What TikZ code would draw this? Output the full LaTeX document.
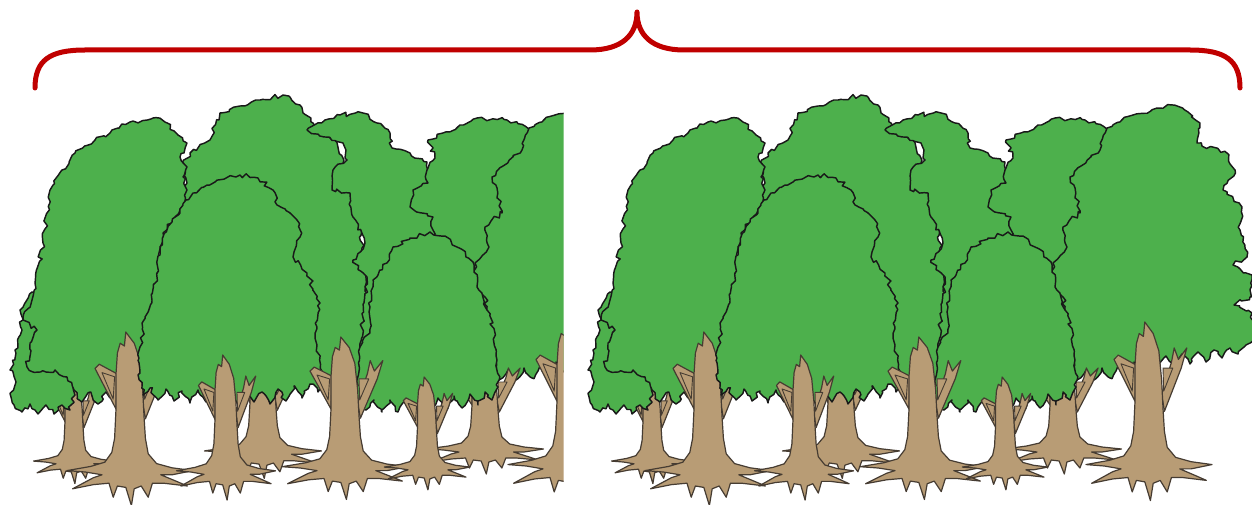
\documentclass[tikz,border=0pt]{standalone}
\usetikzlibrary{decorations.pathmorphing}
\definecolor{leaf}{RGB}{77,176,76}
\definecolor{bark}{RGB}{184,156,117}
\definecolor{barkline}{RGB}{70,60,50}
\definecolor{bracered}{RGB}{192,0,0}
\tikzset{
 canopy/.style={fill=leaf, draw=black!90, line width=1.45pt, line join=round, decorate, decoration={random steps, segment length=4pt, amplitude=2.3pt}},
 barkpart/.style={fill=bark, draw=barkline, line width=1.2pt, line join=round},
 hollow/.style={fill=bark, draw=barkline, line width=0.9pt, line join=round},
 bracestyle/.style={draw=bracered, line width=5pt, line cap=round, line join=round},
}
\newcommand{\drawtrunk}[4]{%
 \begin{scope}[shift={(#1,#2)}, xscale=#3, yscale=#4]
  \path[barkpart] (-10,-45) -- (-25,-74) -- (-22,-77) -- (-9,-70) -- cycle;
  \path[barkpart] (9,-50) -- (16,-72) -- (18,-82) -- (21,-74) -- (27,-82) -- (23,-68) -- (11,-38) -- cycle;
  \path[barkpart] (-3,-100) -- (3,-92) -- (7,-80) -- (9,-60) -- (10,-40) -- (11,-24) -- (13,-13) -- (19,-6) -- (30,-3) -- (45,-1) -- (30,2) -- (22,2) -- (34,7) -- (41,10) -- (24,8) -- (16,8) -- (13,18) -- (8,10) -- (3,12) -- (1,24) -- (-3,11) -- (-9,10) -- (-12,18) -- (-15,8) -- (-26,9) -- (-41,12) -- (-26,4) -- (-20,2) -- (-32,0) -- (-45,-1) -- (-28,-4) -- (-18,-7) -- (-13,-14) -- (-11,-24) -- (-10,-45) -- (-10,-70) -- (-9,-85) -- (-7,-92) -- (-4,-90) -- cycle;
  \path[hollow] (-12,-52) -- (-20,-71) -- (-11,-68) -- cycle;
  \path[hollow] (10.5,-52) -- (17,-68) -- (10,-68) -- cycle;
 \end{scope}}
\newcommand{\forestscene}{%
 \pgfmathsetseed{42}
 % B
 \path[canopy] (182,215) -- (187,183) -- (182,167) -- (190,153) -- (210,140) -- (220,113) -- (240,106) -- (260,100) -- (283,95) -- (300,105) -- (313,123) -- (335,140) -- (355,190) -- (365,260) -- (368,330) -- (372,375) -- (362,388) -- (354,378) -- (346,390) -- (338,380) -- (330,390) -- (320,382) -- (250,385) -- (190,330) -- (178,260) -- cycle;
 % C
 \path[canopy] (343,143) -- (307,130) -- (325,120) -- (340,115) -- (363,113) -- (377,123) -- (390,133) -- (392,148) -- (410,153) -- (427,162) -- (440,200) -- (445,260) -- (440,320) -- (420,370) -- (370,372) -- (360,350) -- (367,277) -- (353,260) -- (365,243) -- (353,217) -- (350,193) -- (332,190) -- (333,170) -- (347,160) -- cycle;
 % D
 \path[canopy] (435,158) -- (428,140) -- (443,133) -- (460,125) -- (477,118) -- (507,120) -- (530,130) -- (545,200) -- (540,300) -- (500,330) -- (440,300) -- (433,230) -- (433,217) -- (410,207) -- (413,190) -- (428,183) -- (427,170) -- cycle;
 % E
 \path[canopy] (522,150) -- (529,128) -- (555,115) -- (579,108) -- (595,105) -- (610,112) -- (622,123) -- (619,143) -- (649,153) -- (657,170) -- (645,190) -- (664,207) -- (662,230) -- (669,257) -- (655,265) -- (674,275) -- (672,297) -- (656,305) -- (674,313) -- (676,340) -- (668,345) -- (660,354) -- (652,348) -- (644,358) -- (636,350) -- (628,362) -- (620,352) -- (612,364) -- (604,354) -- (596,366) -- (588,356) -- (580,368) -- (572,358) -- (564,372) -- (556,362) -- (548,376) -- (540,366) -- (532,378) -- (524,368) -- (516,380) -- (508,370) -- (499,380) -- (490,350) -- (489,323) -- (485,297) -- (472,283) -- (475,263) -- (489,247) -- (485,227) -- (502,213) -- (492,177) -- cycle;
 \drawtrunk{485}{450}{1.3}{1.0}
 \drawtrunk{571}{466}{1.4}{1.44}
 \drawtrunk{263}{452}{1.3}{1.1}
 \drawtrunk{74}{462}{0.9}{0.9}
 % S
 \path[canopy] (45,290) -- (32,292) -- (20,310) -- (22,330) -- (15,350) -- (10,370) -- (16,382) -- (11,397) -- (14,405) -- (22,412) -- (30,404) -- (38,414) -- (46,405) -- (54,414) -- (62,405) -- (70,410) -- (75,395) -- (70,360) -- (60,320) -- cycle;
 % A
 \path[canopy] (62,170) -- (75,153) -- (95,140) -- (110,133) -- (130,122) -- (153,118) -- (165,122) -- (178,135) -- (187,143) -- (180,157) -- (187,167) -- (183,177) -- (187,190) -- (182,207) -- (173,220) -- (163,233) -- (160,263) -- (157,300) -- (150,340) -- (148,380) -- (145,398) -- (137,390) -- (130,402) -- (122,391) -- (114,403) -- (106,392) -- (98,404) -- (90,392) -- (82,402) -- (74,390) -- (67,377) -- (55,370) -- (33,372) -- (27,367) -- (30,343) -- (37,330) -- (23,320) -- (32,300) -- (35,283) -- (43,243) -- (50,190) -- cycle;
 \drawtrunk{130}{472}{1.4}{1.4}
 % F
 \path[canopy] (193,193) -- (215,182) -- (240,175) -- (258,178) -- (273,190) -- (277,205) -- (297,220) -- (300,237) -- (293,257) -- (307,273) -- (320,303) -- (317,327) -- (317,345) -- (323,373) -- (325,380) -- (318,392) -- (310,384) -- (302,398) -- (294,386) -- (286,401) -- (278,389) -- (270,404) -- (262,392) -- (254,402) -- (246,390) -- (238,405) -- (230,393) -- (222,404) -- (214,392) -- (206,402) -- (198,390) -- (190,403) -- (182,391) -- (174,401) -- (166,389) -- (158,400) -- (150,388) -- (143,395) -- (140,373) -- (140,347) -- (145,317) -- (152,300) -- (157,277) -- (160,255) -- (163,237) -- (172,222) -- (180,213) -- (186,200) -- cycle;
 \drawtrunk{226}{472}{1.1}{1.17}
 % G
 \path[canopy] (393,247) -- (410,238) -- (430,232) -- (445,236) -- (457,247) -- (473,262) -- (477,287) -- (487,310) -- (495,333) -- (497,360) -- (498,387) -- (492,400) -- (485,392) -- (478,405) -- (470,394) -- (462,408) -- (454,396) -- (446,410) -- (438,398) -- (430,410) -- (422,398) -- (414,411) -- (406,399) -- (398,412) -- (390,400) -- (382,412) -- (374,400) -- (366,410) -- (358,400) -- (355,398) -- (357,380) -- (360,347) -- (370,333) -- (370,307) -- (373,280) -- (387,263) -- cycle;
 \drawtrunk{345}{468}{1.4}{1.31}
 \drawtrunk{427}{468}{0.95}{0.91}
}
\begin{document}
\begin{tikzpicture}[x=1pt,y=-1pt]
 \useasboundingbox (0,0) rectangle (1252,505);
 \fill[white] (0,0) rectangle (1252,505);
 \begin{scope}
  \clip (0,0) rectangle (563.5,505);
  \forestscene
 \end{scope}
 \begin{scope}[shift={(578,0)}]
  \clip (0,0) rectangle (674,505);
  \forestscene
 \end{scope}
 \draw[bracestyle] (35,88) .. controls (35,60) and (50,50) .. (85,50) -- (590,50) .. controls (622,50) and (637,35) .. (637,12) .. controls (637,35) and (652,50) .. (684,50) -- (1190,50) .. controls (1225,50) and (1240,60) .. (1240,88);
\end{tikzpicture}
\end{document}
